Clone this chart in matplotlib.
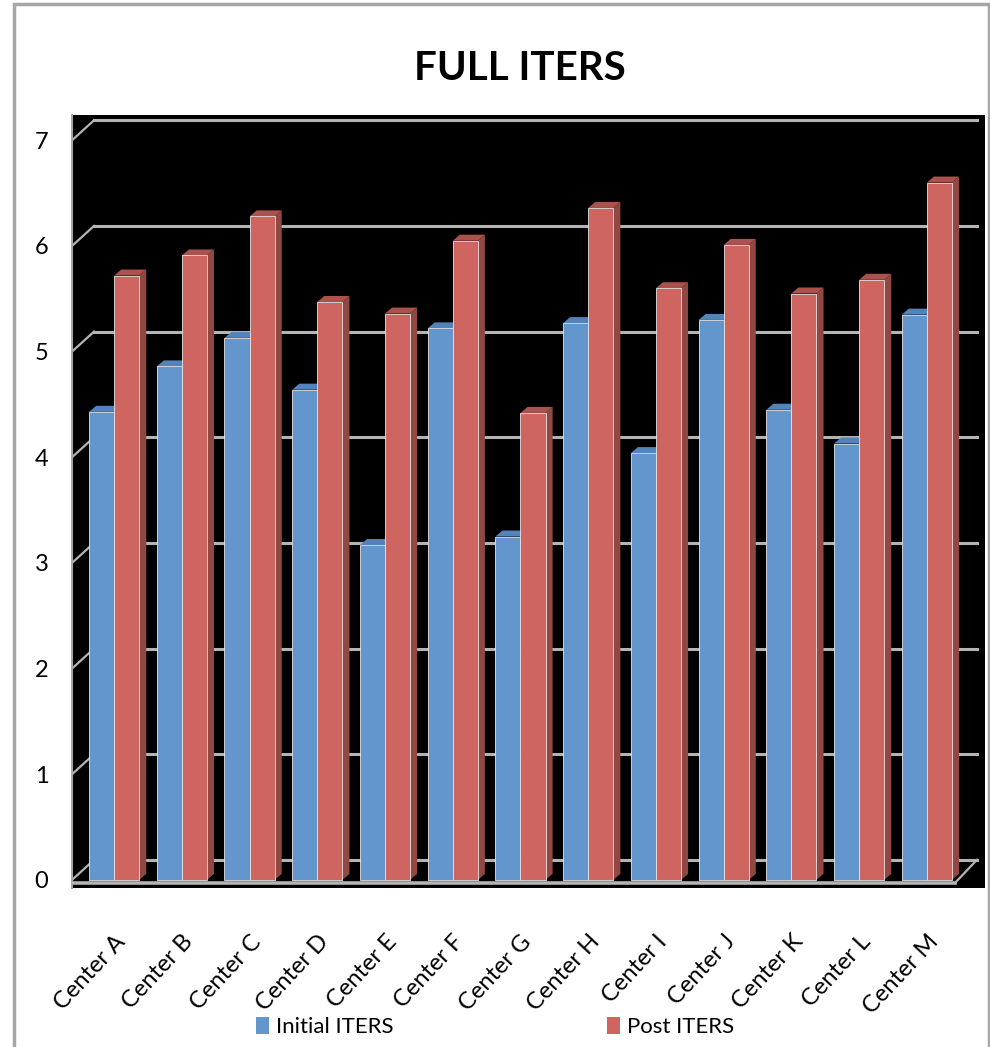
import matplotlib.pyplot as plt
from matplotlib.patches import Polygon, Rectangle
from matplotlib import font_manager

# Chart data
centers = ['Center A', 'Center B', 'Center C', 'Center D', 'Center E', 'Center F', 'Center G',
           'Center H', 'Center I', 'Center J', 'Center K', 'Center L', 'Center M']
initial_iters = [4.43, 4.86, 5.13, 4.64, 3.17, 5.22, 3.25, 5.27, 4.04, 5.30, 4.45, 4.13, 5.35]
post_iters = [5.72, 5.91, 6.28, 5.47, 5.36, 6.05, 4.42, 6.36, 5.60, 6.01, 5.55, 5.68, 6.60]
y_ticks = [0, 1, 2, 3, 4, 5, 6, 7]
series_names = ['Initial ITERS', 'Post ITERS']

# colours: front, side, top
blue = ('#6396cc', '#476f9c', '#5283ba')
red = ('#cf6560', '#914742', '#ab524d')
grid_col = '#b4b4b4'

# pick fonts that are installed
installed = {f.name for f in font_manager.fontManager.ttflist}
body_font = 'Lato' if 'Lato' in installed else 'DejaVu Sans'

# pseudo 3D geometry, in data units
bar_w = 0.37      # width of one bar
side_dx = 0.105   # bar depth, horizontal
side_dy = 0.057   # bar depth, vertical
wall_dx = 0.326   # back wall offset
wall_dy = 0.19
x_lo, x_hi = -0.622, 12.86
y_lo, y_hi = -0.076, 7.24
grid_right = 12.74


def draw_bar(ax, x0, v, cols):
    x1 = x0 + bar_w
    ax.add_patch(Polygon([(x1, 0), (x1 + side_dx, side_dy), (x1 + side_dx, v + side_dy), (x1, v)],
                         closed=True, facecolor=cols[1], edgecolor='none', zorder=3))
    ax.add_patch(Polygon([(x0, v), (x0 + side_dx, v + side_dy), (x1 + side_dx, v + side_dy), (x1, v)],
                         closed=True, facecolor=cols[2], edgecolor='none', zorder=3))
    ax.add_patch(Rectangle((x0, 0), bar_w, v, facecolor=cols[0], edgecolor='#e6e6e6',
                           linewidth=0.6, zorder=3))


fig = plt.figure(figsize=(9.9, 10.47), dpi=100)
ax = fig.add_axes([0.0727, 0.1519, 0.9223, 0.7383])
ax.set_facecolor('black')
ax.set_xlim(x_lo, x_hi)
ax.set_ylim(y_lo, y_hi)

# back wall gridlines + left wall diagonals
for v in y_ticks:
    ax.plot([x_lo + wall_dx, grid_right], [v + wall_dy, v + wall_dy], color=grid_col, lw=2.2, zorder=1)
    ax.plot([x_lo, x_lo + wall_dx], [v, v + wall_dy], color=grid_col, lw=1.6, zorder=1)

# floor front edge
floor_right = grid_right - wall_dx
ax.plot([x_lo, floor_right], [-0.03, -0.03], color=grid_col, lw=2.6, zorder=4)
ax.plot([floor_right, grid_right], [-0.03, wall_dy], color=grid_col, lw=1.6, zorder=4)

for i in range(len(centers)):
    draw_bar(ax, i - bar_w, initial_iters[i], blue)
    draw_bar(ax, i, post_iters[i], red)

ax.set_yticks(y_ticks)
ax.set_yticklabels([str(v) for v in y_ticks], fontsize=17, family=body_font)
ax.tick_params(axis='y', length=0, pad=17)
ax.set_xticks(range(len(centers)))
ax.set_xticklabels(centers, rotation=47, ha='right', rotation_mode='anchor',
                   fontsize=17, family=body_font)
ax.tick_params(axis='x', length=0, pad=31)

for s in ['top', 'right', 'bottom']:
    ax.spines[s].set_visible(False)
ax.spines['left'].set_color('#a6a6a6')
ax.spines['left'].set_linewidth(1.5)

fig.text(0.525, 0.935, 'FULL ITERS', ha='center', va='center', fontsize=29,
         fontweight='bold', family=body_font)

handles = [Rectangle((0, 0), 1, 1, facecolor=blue[0]), Rectangle((0, 0), 1, 1, facecolor=red[0])]
fig.legend(handles, series_names, loc='center', bbox_to_anchor=(0.5, 0.019), ncol=2,
           frameon=False, prop={'family': body_font, 'size': 16}, handlelength=0.6,
           handleheight=0.8, handletextpad=0.3, columnspacing=9.6)

# outer chart border
fig.add_artist(Rectangle((0.0141, -0.01), 0.9853, 1.006, transform=fig.transFigure,
                         fill=False, edgecolor='#a6a6a6', linewidth=2.5))

fig.savefig('out.png', dpi=100)
